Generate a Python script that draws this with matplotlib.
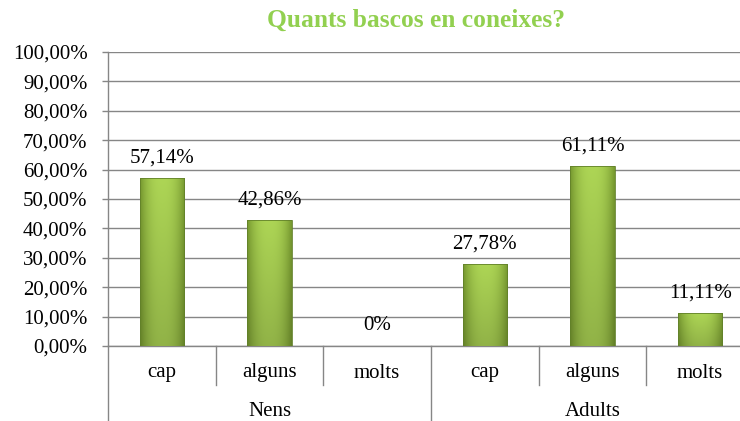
import matplotlib
matplotlib.use("Agg")
import matplotlib.pyplot as plt
import numpy as np
from matplotlib.colors import to_rgb

categories = ["cap", "alguns", "molts", "cap", "alguns", "molts"]
groups = ["Nens", "Adults"]
values = [57.14, 42.86, 0.0, 27.78, 61.11, 11.11]
value_labels = ["57,14%", "42,86%", "0%", "27,78%", "61,11%", "11,11%"]
yticks = [0, 10, 20, 30, 40, 50, 60, 70, 80, 90, 100]
ytick_labels = ["0,00%", "10,00%", "20,00%", "30,00%", "40,00%", "50,00%",
                "60,00%", "70,00%", "80,00%", "90,00%", "100,00%"]
title = "Quants bascos en coneixes?"

plt.rcParams['font.family'] = ['Liberation Serif', 'DejaVu Serif']

W, H = 740, 421
fig = plt.figure(figsize=(W / 100, H / 100), dpi=100)
left_px, right_px, top_px, bot_px = 108, 754, 52, 346
ax = fig.add_axes([left_px / W, (H - bot_px) / H, (right_px - left_px) / W, (bot_px - top_px) / H])

grid_col = "#868686"
fs = 15
n = len(categories)
x = np.arange(n) + 0.5
bw = 0.41
bars = ax.bar(x, values, width=bw, color="#9bc245", edgecolor="none", zorder=2)

# gradient fill for bars
edge_c = np.array(to_rgb("#76982f"))
mid_c = np.array(to_rgb("#add555"))
hx = np.linspace(-1, 1, 60)
prof = 1 - np.abs(hx) ** 2.5
vy = np.linspace(0, 1, 60)[:, None]
for b in bars:
    h = b.get_height()
    if h <= 0:
        continue
    img = edge_c[None, None, :] + (mid_c - edge_c)[None, None, :] * prof[None, :, None]
    shade = 0.84 + 0.16 * vy
    img = np.clip(img * shade[:, :, None], 0, 1)
    im = ax.imshow(img, extent=(b.get_x(), b.get_x() + b.get_width(), 0, h),
                   origin="lower", aspect="auto", zorder=3, interpolation="bilinear")
    im.set_clip_path(b)
    ax.bar(b.get_x() + b.get_width() / 2, h, width=b.get_width(), color="none",
           edgecolor="#62812a", linewidth=0.6, zorder=4)

for xi, v, lab in zip(x, values, value_labels):
    ax.annotate(lab, (xi, v), xytext=(0, 14.5), textcoords="offset points",
                ha="center", va="center", fontsize=fs, color="black", zorder=5)

ax.set_xlim(0, n)
ax.set_ylim(0, 100)
ax.set_yticks(yticks)
ax.set_yticklabels(ytick_labels, fontsize=fs)
ax.yaxis.grid(True, color=grid_col, linewidth=1.0, zorder=0)
ax.set_axisbelow(True)
ax.set_xticks([])
for s in ["top", "right", "bottom"]:
    ax.spines[s].set_visible(False)
ax.spines["left"].set_color(grid_col)
ax.spines["left"].set_linewidth(1.0)
ax.tick_params(axis="y", length=4.3, color=grid_col, width=1.0, pad=10.5)

trans = ax.get_xaxis_transform()
ax.plot([0, n], [0, 0], color=grid_col, lw=1.0, transform=trans, clip_on=False, zorder=1)
ph = bot_px - top_px
cat_y = -(373 - bot_px) / ph
grp_y = -(412 - bot_px) / ph
div_end = -(385 - bot_px) / ph
fig_bot = -(H - bot_px) / ph
for i, c in enumerate(categories):
    ax.text(i + 0.5, cat_y, c, transform=trans, ha="center", va="center", fontsize=fs)
for i in range(1, n):
    if i % 3 == 0:
        continue
    ax.plot([i, i], [0, div_end], color=grid_col, lw=1.0, transform=trans, clip_on=False)
for g_i, g in enumerate(groups):
    ax.text(g_i * 3 + 1.5, grp_y, g, transform=trans, ha="center", va="center", fontsize=fs)
for gx in [0, 3]:
    ax.plot([gx, gx], [0, fig_bot], color=grid_col, lw=1.0, transform=trans, clip_on=False)

fig.text(416 / W, 1 - 20 / H, title, ha="center", va="center", fontsize=18.4,
         fontweight="bold", color="#92d050")

fig.savefig("out.png", dpi=100)
